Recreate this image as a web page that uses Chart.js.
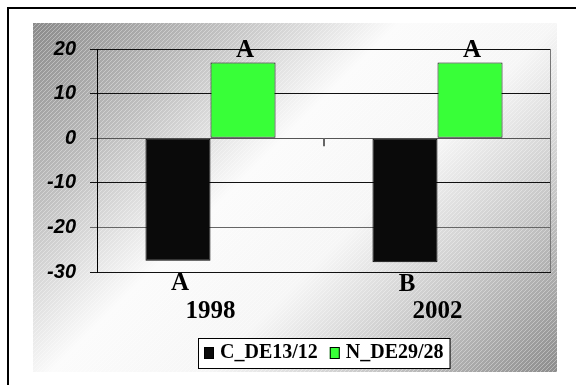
<!DOCTYPE html>
<html>
<head>
<meta charset="utf-8">
<script src="https://cdn.jsdelivr.net/npm/chart.js@4"></script>
<style>
  body { margin: 0; background: #fff; }
  canvas { display: block; }
</style>
</head>
<body>
<canvas id="chart" width="576" height="385"></canvas>
<script>
"use strict";
const years = ["1998", "2002"];
const seriesNames = ["C_DE13/12", "N_DE29/28"];
const cValues = [-27.5, -27.8];
const nValues = [17, 17];
const cLetters = ["A", "B"];
const nLetters = ["A", "A"];
const seriesColors = ["#0a0a0a", "#38ff38"];

const serif = "'Liberation Serif', 'Times New Roman', serif";
const sans = "'Liberation Sans', Arial, sans-serif";

// little diagonal hatch laid over the gray panel
const hatch = document.createElement("canvas");
hatch.width = 4;
hatch.height = 4;
const hctx = hatch.getContext("2d");
hctx.strokeStyle = "rgba(255,255,255,0.35)";
hctx.lineWidth = 1;
hctx.beginPath();
hctx.moveTo(-1, 5);
hctx.lineTo(5, -1);
hctx.stroke();

const panelPlugin = {
  id: "panel",
  beforeDraw(chart) {
    const ctx = chart.ctx;
    ctx.save();
    ctx.fillStyle = "#fff";
    ctx.fillRect(0, 0, chart.width, chart.height);

    // outer frame
    ctx.fillStyle = "#000";
    ctx.fillRect(7, 7, chart.width - 7, 2);
    ctx.fillRect(7, 7, 2, chart.height - 7);

    const x0 = 33, y0 = 23, x1 = 557, y1 = 372;
    const s = Math.min(x1 - x0, y1 - y0);
    const g = ctx.createLinearGradient(x0, y0, x0 + (x1 - x0 + y1 - y0) / 2, y0 + (x1 - x0 + y1 - y0) / 2);
    g.addColorStop(0, "#8a8a8a");
    g.addColorStop(0.22, "#c0c0c0");
    g.addColorStop(0.42, "#fbfbfb");
    g.addColorStop(0.6, "#f6f6f6");
    g.addColorStop(0.8, "#c4c4c4");
    g.addColorStop(1, "#8c8c8c");
    ctx.fillStyle = g;
    ctx.fillRect(x0, y0, x1 - x0, y1 - y0);
    ctx.fillStyle = ctx.createPattern(hatch, "repeat");
    ctx.fillRect(x0, y0, x1 - x0, y1 - y0);
    ctx.restore();
  },
  afterDatasetsDraw(chart) {
    const ctx = chart.ctx;
    const area = chart.chartArea;
    const xs = chart.scales.x;
    const ys = chart.scales.y;
    ctx.save();

    // right edge of the plot area
    ctx.strokeStyle = "#777";
    ctx.lineWidth = 1;
    ctx.beginPath();
    ctx.moveTo(area.right - 0.5, area.top);
    ctx.lineTo(area.right - 0.5, area.bottom);
    ctx.stroke();

    // category tick where the axis crosses zero
    const zero = ys.getPixelForValue(0);
    ctx.strokeStyle = "#666";
    ctx.lineWidth = 2;
    for (let i = 0; i < years.length - 1; i++) {
      const bx = (xs.getPixelForValue(i) + xs.getPixelForValue(i + 1)) / 2;
      ctx.beginPath();
      ctx.moveTo(bx, zero);
      ctx.lineTo(bx, zero + 8);
      ctx.stroke();
    }

    // significance letters at the bar ends
    const letters = [cLetters, nLetters];
    ctx.fillStyle = "#000";
    ctx.font = "bold 25px " + serif;
    ctx.textAlign = "center";
    ctx.textBaseline = "alphabetic";
    chart.data.datasets.forEach((ds, di) => {
      chart.getDatasetMeta(di).data.forEach((bar, i) => {
        const v = ds.data[i];
        const y = v >= 0 ? bar.y - 5 : bar.y + 29;
        ctx.fillText(letters[di][i], bar.x + 2, y);
      });
    });
    ctx.restore();
  },
  afterDraw(chart) {
    // legend box under the panel
    const ctx = chart.ctx;
    const area = chart.chartArea;
    ctx.save();
    ctx.font = "bold 20px " + serif;
    const mark = 10, gap = 6, itemGap = 12, pad = 6;
    const widths = seriesNames.map((n) => ctx.measureText(n).width);
    let total = pad * 2;
    widths.forEach((w, i) => { total += mark + gap + w + (i ? itemGap : 0); });
    const left = Math.round((area.left + area.right) / 2 - total / 2);
    const top = 338, h = 30;
    ctx.fillStyle = "#fff";
    ctx.fillRect(left, top, total, h);
    ctx.strokeStyle = "#000";
    ctx.lineWidth = 1;
    ctx.strokeRect(left + 0.5, top + 0.5, total, h);

    let x = left + pad;
    ctx.textBaseline = "alphabetic";
    ctx.textAlign = "left";
    seriesNames.forEach((name, i) => {
      ctx.fillStyle = seriesColors[i];
      ctx.fillRect(x, 347, mark, 12);
      ctx.strokeStyle = "#000";
      ctx.strokeRect(x + 0.5, 347.5, mark - 1, 11);
      x += mark + gap;
      ctx.fillStyle = "#000";
      ctx.fillText(name, x, 358);
      x += widths[i] + itemGap;
    });
    ctx.restore();
  },
};

const gridColor = (c) => {
  const v = c.tick && c.tick.value;
  if (v === 0) return "#555";
  if (v === -20) return "#666";
  return "#111";
};

const config = {
  type: "bar",
  data: {
    labels: years,
    datasets: [
      {
        label: seriesNames[0],
        data: cValues,
        backgroundColor: seriesColors[0],
        borderColor: "#000",
        borderWidth: 1,
      },
      {
        label: seriesNames[1],
        data: nValues,
        backgroundColor: seriesColors[1],
        borderColor: "#111",
        borderWidth: 1,
      },
    ],
  },
  options: {
    responsive: false,
    animation: false,
    layout: { padding: { left: 0, top: 49, right: 25, bottom: 0 } },
    datasets: {
      bar: { categoryPercentage: 0.573, barPercentage: 1, borderSkipped: false },
    },
    plugins: {
      legend: { display: false },
      tooltip: { enabled: false },
    },
    scales: {
      x: {
        offset: true,
        grid: { display: false, drawTicks: false },
        border: { display: false },
        ticks: {
          color: "#000",
          padding: 25,
          font: { family: serif, size: 25, weight: "bold" },
        },
        afterFit(scale) { scale.height = 113; },
      },
      y: {
        min: -30,
        max: 20,
        ticks: {
          stepSize: 10,
          color: "#000",
          padding: 14,
          font: { family: sans, size: 20, weight: "bold", style: "italic" },
        },
        grid: { color: gridColor, lineWidth: 1, tickLength: 7 },
        border: { display: true, color: "#000", width: 1 },
        afterFit(scale) { scale.width = 97; },
      },
    },
  },
  plugins: [panelPlugin],
};

const chart = new Chart(document.getElementById("chart"), config);
</script>
</body>
</html>
